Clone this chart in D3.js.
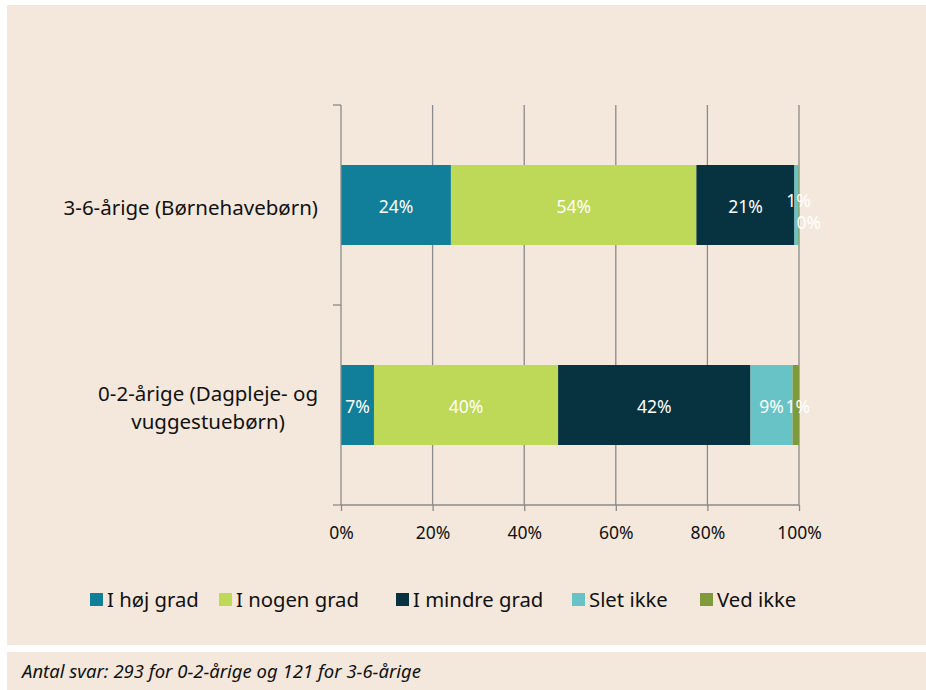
<!DOCTYPE html>
<html>
<head>
<meta charset="utf-8">
<script src="https://cdn.jsdelivr.net/npm/d3@7"></script>
<style>
  body { margin: 0; background: #fff; }
  svg { display: block; font-family: "Noto Sans", "Open Sans", sans-serif; }
</style>
</head>
<body>
<svg id="chart" width="926" height="690"></svg>
<script>
// categories top -> bottom
const categories = ["3-6-årige (Børnehavebørn)", "0-2-årige (Dagpleje- og vuggestuebørn)"]
const series = ["I høj grad", "I nogen grad", "I mindre grad", "Slet ikke", "Ved ikke"]
const colors = ["#117e9a", "#bed858", "#073341", "#68c3c6", "#7f9a3a"]
// shares in %, one row per category, one column per series
const values = [
  [24.0, 53.6, 21.4, 0.9, 0.1],
  [7.2, 40.2, 42.0, 9.2, 1.4]
]
const xTicks = [0, 0.2, 0.4, 0.6, 0.8, 1]
const note = "Antal svar: 293 for 0-2-årige og 121 for 3-6-årige"

const svg = d3.select("#chart")

// background panels
svg.append("rect").attr("x", 7).attr("y", 5).attr("width", 919).attr("height", 640).attr("fill", "#f4e8dc")
svg.append("rect").attr("x", 7).attr("y", 652).attr("width", 919).attr("height", 38).attr("fill", "#f4e8dc")

const x = d3.scaleLinear().domain([0, 1]).range([341, 799])
const y = d3.scaleBand().domain(categories).range([105, 505]).paddingInner(0.6).paddingOuter(0.3)

const axisColor = "#8a8a8a"

// vertical gridlines
svg.append("g").selectAll("line").data(xTicks.slice(1)).join("line")
  .attr("x1", d => x(d)).attr("x2", d => x(d))
  .attr("y1", 105).attr("y2", 505)
  .attr("stroke", axisColor).attr("stroke-width", 1.3)

// stacked bars
const rows = values.map((row, i) => {
  let acc = 0
  return row.map((v, j) => {
    const seg = { cat: categories[i], key: series[j], v: v / 100, x0: acc, color: colors[j], idx: j, row }
    acc += v / 100
    seg.x1 = acc
    return seg
  })
})

const barG = svg.append("g")
rows.forEach(row => {
  barG.selectAll(null).data(row).join("rect")
    .attr("x", d => x(d.x0))
    .attr("width", d => x(d.x1) - x(d.x0))
    .attr("y", d => y(d.cat))
    .attr("height", y.bandwidth())
    .attr("fill", d => d.color)
})

// value labels - tiny segments get nudged so they don't sit on top of each other
const fmt = d3.format(".0%")
rows.forEach(row => {
  barG.selectAll(null).data(row).join("text")
    .attr("x", d => {
      const cx = (x(d.x0) + x(d.x1)) / 2
      if (Math.round(d.v * 100) === 0) return cx + 10
      return d.v < 0.02 ? cx + 2 : cx
    })
    .attr("y", d => {
      const cy = y(d.cat) + y.bandwidth() / 2 + 2
      if (Math.round(d.v * 100) === 0) return cy + 16
      const next = d.row[d.idx + 1]
      if (next !== undefined && Math.round(next) === 0 && d.v < 0.02) return cy - 6
      return cy
    })
    .attr("dy", "0.35em")
    .attr("text-anchor", "middle")
    .attr("fill", "#fff")
    .attr("font-size", 17.5)
    .text(d => fmt(d.v))
})

// axes
const xAxis = svg.append("g").attr("transform", "translate(0,505)")
  .call(d3.axisBottom(x).tickValues(xTicks).tickFormat(fmt).tickSize(6).tickPadding(16))
xAxis.select(".domain").attr("stroke", axisColor).attr("stroke-width", 1.3).attr("d", "M341,0H799")
xAxis.selectAll(".tick line").attr("stroke", axisColor).attr("stroke-width", 1.3)
xAxis.selectAll("text").attr("font-size", 17.5).attr("fill", "#111").attr("font-family", "Noto Sans")

// y axis line + ticks at band boundaries
svg.append("line").attr("x1", 341).attr("x2", 341).attr("y1", 105).attr("y2", 505)
  .attr("stroke", axisColor).attr("stroke-width", 1.3)
svg.append("g").selectAll("line").data([105, 305, 505]).join("line")
  .attr("x1", 333).attr("x2", 341).attr("y1", d => d).attr("y2", d => d)
  .attr("stroke", axisColor).attr("stroke-width", 1.3)

// category labels (wrapped lines centred in a right-aligned block)
const catLines = {
  [categories[0]]: ["3-6-årige (Børnehavebørn)"],
  [categories[1]]: ["0-2-årige (Dagpleje- og", "vuggestuebørn)"]
}
categories.forEach(c => {
  const lines = catLines[c]
  const cy = y(c) + y.bandwidth() / 2 + 3
  const lh = 28
  const g = svg.append("g")
  const t = g.selectAll("text").data(lines).join("text")
    .attr("y", (d, i) => cy + (i - (lines.length - 1) / 2) * lh)
    .attr("dy", "0.35em")
    .attr("font-size", 20.5)
    .attr("fill", "#111")
    .text(d => d)
  const widths = t.nodes().map(n => n.getComputedTextLength())
  const w = d3.max(widths)
  const right = 318
  t.attr("text-anchor", "middle").attr("x", right - w / 2)
})

// legend
const legend = svg.append("g").attr("transform", "translate(0,600)")
const legendX = [90, 219, 396, 572, 700]
series.forEach((s, i) => {
  const g = legend.append("g").attr("transform", `translate(${legendX[i]},0)`)
  g.append("rect").attr("x", 0).attr("y", -7).attr("width", 13).attr("height", 13).attr("fill", colors[i])
  g.append("text").attr("x", 17).attr("y", 0).attr("dy", "0.35em")
    .attr("font-size", 20.3).attr("fill", "#111").text(s)
})

// footnote
svg.append("text").attr("x", 22).attr("y", 678)
  .attr("font-size", 18.5).attr("font-style", "italic").attr("fill", "#111")
  .text(note)
</script>
</body>
</html>
